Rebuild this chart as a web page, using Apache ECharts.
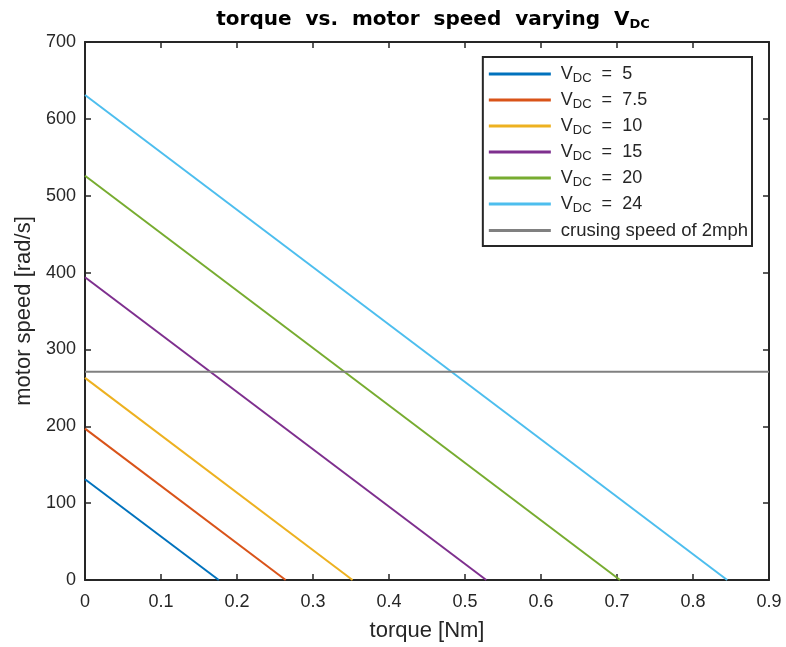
<!DOCTYPE html>
<html>
<head>
<meta charset="utf-8">
<script src="https://cdn.jsdelivr.net/npm/echarts@6/dist/echarts.min.js"></script>
<style>
  html, body { margin: 0; padding: 0; background: #fff; }
  #chart { width: 786px; height: 647px; }
</style>
</head>
<body>
<div id="chart"></div>
<script>
// legend labels and the values
const voltages = ['5', '7.5', '10', '15', '20', '24']
const noLoadSpeed = [131, 197, 263, 394, 526, 631]   // rad/s at torque 0
const stallTorque = [0.176, 0.264, 0.352, 0.528, 0.704, 0.845] // Nm at speed 0
const lineColors = ['#0072BD', '#D95319', '#EDB120', '#7E2F8E', '#77AC30', '#4DBEEE']
const cruiseName = 'crusing speed of 2mph'
const cruiseSpeed = 271
const xRange = [0, 0.9]

const axisColor = '#262626'
const font = 'Liberation Sans'

const chart = echarts.init(document.getElementById('chart'))

const vdcSeries = voltages.map((v, i) => ({
    name: 'V' + v,
    type: 'line',
    showSymbol: false,
    silent: true,
    lineStyle: { width: 2, color: lineColors[i] },
    itemStyle: { color: lineColors[i] },
    data: [[0, noLoadSpeed[i]], [stallTorque[i], 0]]
}))

const cruiseSeries = {
    name: cruiseName,
    type: 'line',
    showSymbol: false,
    silent: true,
    lineStyle: { width: 2, color: '#808080' },
    itemStyle: { color: '#808080' },
    data: [[xRange[0], cruiseSpeed], [xRange[1], cruiseSpeed]]
}

const tickStyle = { inside: true, length: 6, lineStyle: { color: axisColor, width: 1.5 } }
const lineStyle = { show: true, onZero: false, lineStyle: { color: axisColor, width: 2 } }

chart.setOption({
    animation: false,
    title: {
        text: '{t|torque  vs.  motor  speed  varying  V}{s|DC}',
        left: 428,
        top: 4,
        textAlign: 'center',
        textStyle: {
            rich: {
                t: { fontFamily: 'DejaVu Sans', fontSize: 20, fontWeight: 'bold', color: '#000' },
                s: { fontFamily: 'DejaVu Sans', fontSize: 13, color: '#000', padding: [9, 0, 0, 0] }
            }
        }
    },
    grid: { left: 85, right: 17, top: 42, bottom: 66 },
    legend: {
        orient: 'vertical',
        right: 34,
        top: 57,
        itemWidth: 62,
        itemHeight: 3,
        itemGap: 6.5,
        padding: [8, 4, 6, 6],
        borderColor: axisColor,
        borderWidth: 2,
        borderRadius: 0,
        backgroundColor: '#fff',
        icon: 'rect',
        data: vdcSeries.map(s => s.name).concat([cruiseName]),
        formatter: name => {
            if (name === cruiseName) return '{c|' + name + '}'
            return '{v|V}{s|DC}{a|  =  ' + name.slice(1) + '}'
        },
        textStyle: {
            rich: {
                v: { fontFamily: font, fontSize: 18, color: axisColor, height: 19, padding: [0, 0, 0, 5] },
                a: { fontFamily: font, fontSize: 18, color: axisColor, height: 19 },
                s: { fontFamily: font, fontSize: 13, color: axisColor, padding: [8, 0, 0, 0] },
                c: { fontFamily: font, fontSize: 18.5, color: axisColor, height: 19, padding: [0, 0, 0, 5] }
            }
        }
    },
    xAxis: [{
        type: 'value',
        min: xRange[0],
        max: xRange[1],
        interval: 0.1,
        name: 'torque [Nm]',
        nameLocation: 'middle',
        nameGap: 40,
        nameTextStyle: { fontFamily: font, fontSize: 22, color: axisColor },
        axisLine: lineStyle,
        axisTick: tickStyle,
        axisLabel: { fontFamily: font, fontSize: 18, color: axisColor, margin: 13 },
        splitLine: { show: false }
    }, {
        type: 'value',
        position: 'top',
        min: xRange[0],
        max: xRange[1],
        interval: 0.1,
        axisLine: lineStyle,
        axisTick: tickStyle,
        axisLabel: { show: false },
        splitLine: { show: false }
    }],
    yAxis: [{
        type: 'value',
        min: 0,
        max: 700,
        interval: 100,
        name: 'motor speed [rad/s]',
        nameLocation: 'middle',
        nameGap: 50,
        nameTextStyle: { fontFamily: font, fontSize: 22, color: axisColor },
        axisLine: lineStyle,
        axisTick: tickStyle,
        axisLabel: { fontFamily: font, fontSize: 18, color: axisColor, margin: 9 },
        splitLine: { show: false }
    }, {
        type: 'value',
        position: 'right',
        min: 0,
        max: 700,
        interval: 100,
        axisLine: lineStyle,
        axisTick: tickStyle,
        axisLabel: { show: false },
        splitLine: { show: false }
    }],
    series: vdcSeries.concat([cruiseSeries])
})
</script>
</body>
</html>
